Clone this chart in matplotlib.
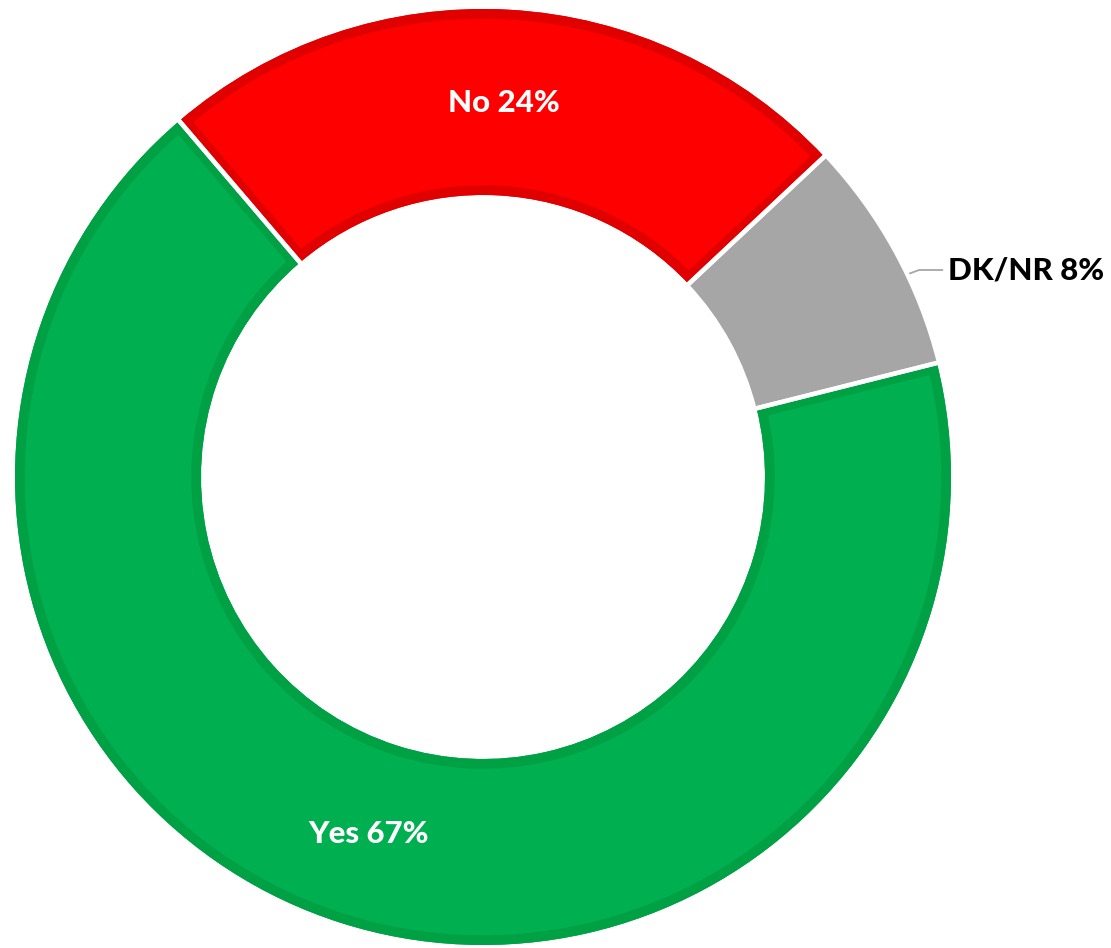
import numpy as np
import matplotlib.pyplot as plt
from matplotlib.patches import Wedge

# ##### DATA ######
labels = ['Yes', 'No', 'DK/NR']
values = [67, 24, 8]
colors = ['#00B050', '#FF0000', '#A6A6A6']
edge_colors = ['#00A044', '#E00000', None]   # grey slice has no inner border
##################

W, H = 1111, 948
fig = plt.figure(figsize=(W / 100, H / 100), dpi=100)
ax = fig.add_axes([0, 0, 1, 1])

cx, cy = 483, H - 477
r_out = 468
ring = 186

wedges, _ = ax.pie(values, colors=colors, startangle=14.1, counterclock=False,
                   center=(cx, cy), radius=r_out, frame=False,
                   wedgeprops=dict(width=ring, linewidth=0))

# pie resets the limits, so set them afterwards (pixel coords)
ax.set_xlim(0, W)
ax.set_ylim(0, H)
ax.set_aspect('equal')
ax.axis('off')

# darker inset border: thick stroke clipped to the wedge itself
for w, ec in zip(wedges, edge_colors):
    if ec is None:
        continue
    border = Wedge((cx, cy), r_out, w.theta1, w.theta2, width=ring,
                   facecolor='none', edgecolor=ec, linewidth=14)
    ax.add_patch(border)
    border.set_clip_path(w)

# white gaps between slices
for w in wedges:
    sep = Wedge((cx, cy), r_out + 3, w.theta1, w.theta2, width=ring + 6,
                facecolor='none', edgecolor='white', linewidth=3.2)
    ax.add_patch(sep)

font = 'Lato'
r_mid = r_out - ring / 2
for w, lab, v in zip(wedges[:2], labels[:2], values[:2]):
    ang = np.deg2rad((w.theta1 + w.theta2) / 2)
    ax.text(cx + r_mid * np.cos(ang), cy + r_mid * np.sin(ang), f'{lab} {v}%',
            ha='center', va='center', color='white', fontsize=22.5,
            fontweight='black', family=font)

# outside label for DK/NR with leader line
ang = np.deg2rad(25.5)
ax.annotate(f'{labels[2]} {values[2]}%',
            xy=(cx + (r_out + 5) * np.cos(ang), cy + (r_out + 5) * np.sin(ang)),
            xytext=(948, H - 270), ha='left', va='center',
            fontsize=22.5, fontweight='black', family=font, color='black',
            arrowprops=dict(arrowstyle='-', color='#A6A6A6', lw=1.3,
                            shrinkA=2, shrinkB=0,
                            connectionstyle='angle,angleA=0,angleB=20,rad=0'))

plt.savefig('out.png', dpi=100)
plt.close()
